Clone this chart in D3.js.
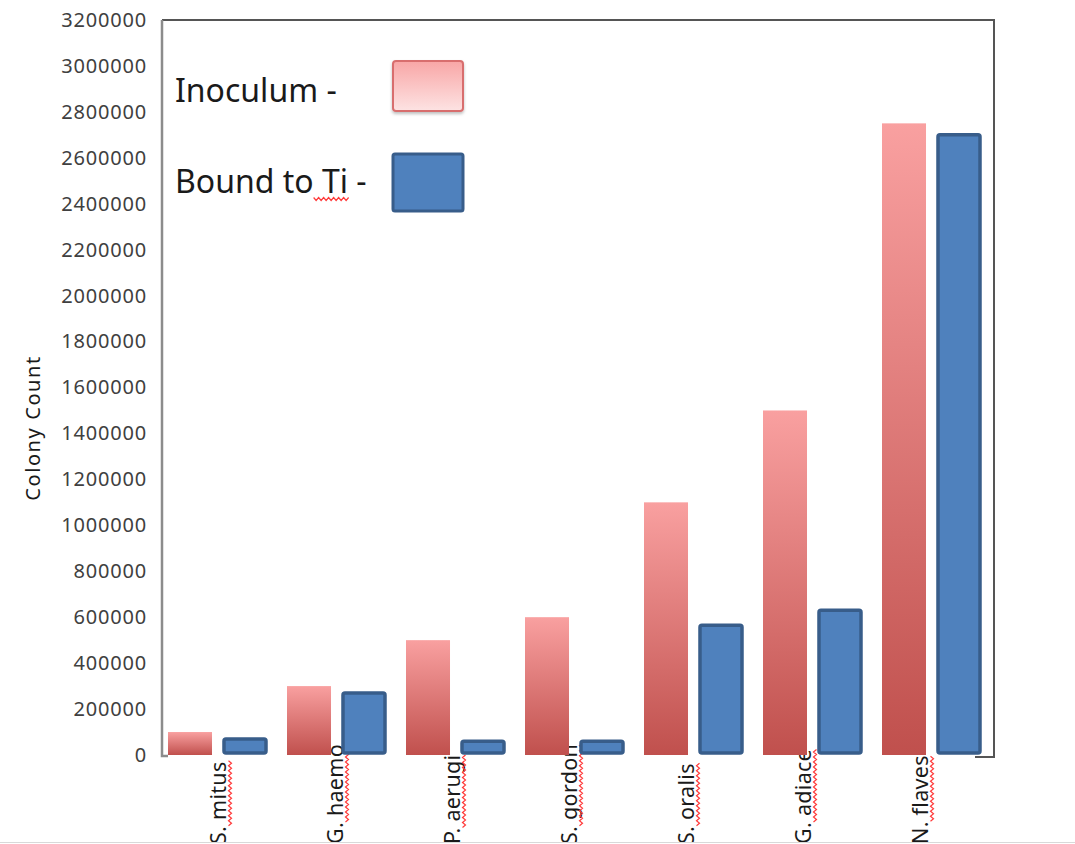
<!DOCTYPE html>
<html>
<head>
<meta charset="utf-8">
<script src="https://cdn.jsdelivr.net/npm/d3@7"></script>
<style>
  html, body { margin: 0; padding: 0; background: #fff; }
  svg { display: block; }
</style>
</head>
<body>
<svg id="chart" width="1075" height="844"></svg>
<script>
// Colony counts per species: inoculum vs. cells bound to titanium
const categories = ["S. mitus", "G. haemo", "P. aerugi", "S. gordon", "S. oralis", "G. adiace", "N. flaves"];
const inoculum   = [100000, 300000, 500000, 600000, 1100000, 1500000, 2750000];
const boundToTi  = [70000, 270000, 60000, 60000, 565000, 630000, 2700000];
const seriesKeys = ["inoculum", "bound"];
const seriesNames = ["Inoculum -", "Bound to Ti -"];
const yTickValues = [0, 200000, 400000, 600000, 800000, 1000000, 1200000, 1400000,
  1600000, 1800000, 2000000, 2200000, 2400000, 2600000, 2800000, 3000000, 3200000];

const svg = d3.select("#chart");
const FONT = "'Noto Sans', 'Open Sans', sans-serif";

const plot = { left: 162, right: 995, top: 20, bottom: 755 };

const y = d3.scaleLinear().domain([0, 3200000]).range([plot.bottom, plot.top]);
const x = d3.scaleBand().domain(categories).range([plot.left, plot.right]).padding(0);
const x1 = d3.scaleBand().domain(seriesKeys).range([6, 106]).paddingInner(0.214);
// category labels sit on a slightly tighter pitch than the bars
const xLabel = d3.scaleBand().domain(categories).range([plot.left, plot.left + 7 * 117]).padding(0);

const rows = categories.map((c, i) => ({ cat: c, inoculum: inoculum[i], bound: boundToTi[i] }));

// gradients
const defs = svg.append("defs");
const gRed = defs.append("linearGradient").attr("id", "redGrad")
  .attr("x1", 0).attr("y1", 0).attr("x2", 0).attr("y2", 1);
gRed.append("stop").attr("offset", "0%").attr("stop-color", "#F9A0A0");
gRed.append("stop").attr("offset", "100%").attr("stop-color", "#C0504D");

const gLeg = defs.append("linearGradient").attr("id", "legGrad")
  .attr("x1", 0).attr("y1", 0).attr("x2", 0).attr("y2", 1);
gLeg.append("stop").attr("offset", "0%").attr("stop-color", "#F8A6A6");
gLeg.append("stop").attr("offset", "100%").attr("stop-color", "#FDE3E3");

const shadow = defs.append("filter").attr("id", "soft").attr("x", "-20%").attr("y", "-20%")
  .attr("width", "140%").attr("height", "150%");
shadow.append("feDropShadow").attr("dx", 0).attr("dy", 2).attr("stdDeviation", 1.5)
  .attr("flood-color", "#000").attr("flood-opacity", 0.25);

// y axis labels
const yAxis = d3.axisLeft(y).tickValues(yTickValues).tickSize(0).tickPadding(15)
  .tickFormat(d3.format("d"));
const yG = svg.append("g").attr("transform", `translate(${plot.left},0)`).call(yAxis);
yG.select(".domain").remove();
yG.selectAll("text")
  .attr("font-family", FONT).attr("font-size", 20).attr("fill", "#404040")
  .attr("letter-spacing", "0.8px");

// axis title
svg.append("text")
  .attr("transform", "translate(40,428) rotate(-90)")
  .attr("text-anchor", "middle")
  .attr("font-family", FONT).attr("font-size", 20).attr("fill", "#1a1a1a")
  .attr("letter-spacing", "1.6px")
  .text("Colony Count");

// wavy underline
function squiggle(x0, y0, len, vertical) {
  const p = d3.path();
  const step = 2.5;
  const n = Math.max(2, Math.round(len / step));
  for (let i = 0; i <= n; i++) {
    const t = i * step;
    const o = (i % 2 === 0) ? -1.5 : 1.5;
    const px = vertical ? x0 + o : x0 + t;
    const py = vertical ? y0 - t : y0 + o;
    if (i === 0) p.moveTo(px, py); else p.lineTo(px, py);
  }
  return p.toString();
}

// category labels (rotated), drawn beneath the bars
const labelBase = 844;
const LABEL_SIZE = 21.5;
const labelG = svg.append("g");
rows.forEach(d => {
  const cx = xLabel(d.cat) + xLabel.bandwidth() / 2 + 5;
  const t = labelG.append("text")
    .attr("transform", `translate(${cx},${labelBase}) rotate(-90)`)
    .attr("text-anchor", "start")
    .attr("font-family", FONT).attr("font-size", LABEL_SIZE).attr("fill", "#1a1a1a")
    .attr("letter-spacing", "0.3px")
    .text(d.cat);
  const full = t.node().getComputedTextLength();
  const prefix = labelG.append("text")
    .attr("font-family", FONT).attr("font-size", LABEL_SIZE).attr("letter-spacing", "0.3px")
    .text(d.cat.split(" ")[0] + " ");
  const pre = prefix.node().getComputedTextLength();
  prefix.remove();
  labelG.append("path")
    .attr("d", squiggle(cx + 4.5, labelBase - pre, full - pre, true))
    .attr("fill", "none").attr("stroke", "#FF3B3B").attr("stroke-width", 1.2);
});

// frame
svg.append("path")
  .attr("d", `M${plot.left},${plot.top} H${plot.right - 1} V${plot.bottom + 2} H${plot.right - 20}`)
  .attr("fill", "none").attr("stroke", "#555").attr("stroke-width", 2);
svg.append("path")
  .attr("d", `M${plot.left},${plot.top} V${plot.bottom + 1} H${plot.left + 6}`)
  .attr("fill", "none").attr("stroke", "#8c8c8c").attr("stroke-width", 2.5);

// bars
const groups = svg.append("g").selectAll("g").data(rows).join("g")
  .attr("transform", d => `translate(${x(d.cat)},0)`);

groups.append("rect")
  .attr("x", x1("inoculum"))
  .attr("y", d => y(d.inoculum))
  .attr("width", x1.bandwidth())
  .attr("height", d => y(0) - y(d.inoculum))
  .attr("fill", "url(#redGrad)");

groups.append("rect")
  .attr("x", x1("bound"))
  .attr("y", d => y(d.bound))
  .attr("width", x1.bandwidth() - 2)
  .attr("height", d => y(0) - y(d.bound) - 2)
  .attr("rx", 2)
  .attr("fill", "#4F81BD")
  .attr("stroke", "#385D8A")
  .attr("stroke-width", 3.5);

// legend
const legend = svg.append("g");
legend.append("text").attr("x", 175).attr("y", 102)
  .attr("font-family", FONT).attr("font-size", 32).attr("fill", "#1a1a1a").text(seriesNames[0]);
legend.append("text").attr("x", 175).attr("y", 193)
  .attr("font-family", FONT).attr("font-size", 32).attr("fill", "#1a1a1a").text(seriesNames[1]);
// underline beneath "Ti"
{
  const tmp = legend.append("text").attr("font-family", FONT).attr("font-size", 32).text("Bound to ");
  const a = tmp.node().getComputedTextLength();
  tmp.text("Bound to Ti");
  const b = tmp.node().getComputedTextLength();
  tmp.remove();
  legend.append("path").attr("d", squiggle(175 + a, 199, b - a, false))
    .attr("fill", "none").attr("stroke", "#FF3B3B").attr("stroke-width", 1.2);
}
legend.append("rect").attr("x", 393).attr("y", 61).attr("width", 70).attr("height", 50)
  .attr("rx", 3).attr("fill", "url(#legGrad)").attr("stroke", "#D86E6E").attr("stroke-width", 2)
  .attr("filter", "url(#soft)");
legend.append("rect").attr("x", 393).attr("y", 154).attr("width", 70).attr("height", 57)
  .attr("rx", 2).attr("fill", "#4F81BD").attr("stroke", "#385D8A").attr("stroke-width", 3);

// bottom rule
svg.append("line").attr("x1", 0).attr("x2", 1075).attr("y1", 842.5).attr("y2", 842.5)
  .attr("stroke", "#d9d9d9").attr("stroke-width", 1);
</script>
</body>
</html>
